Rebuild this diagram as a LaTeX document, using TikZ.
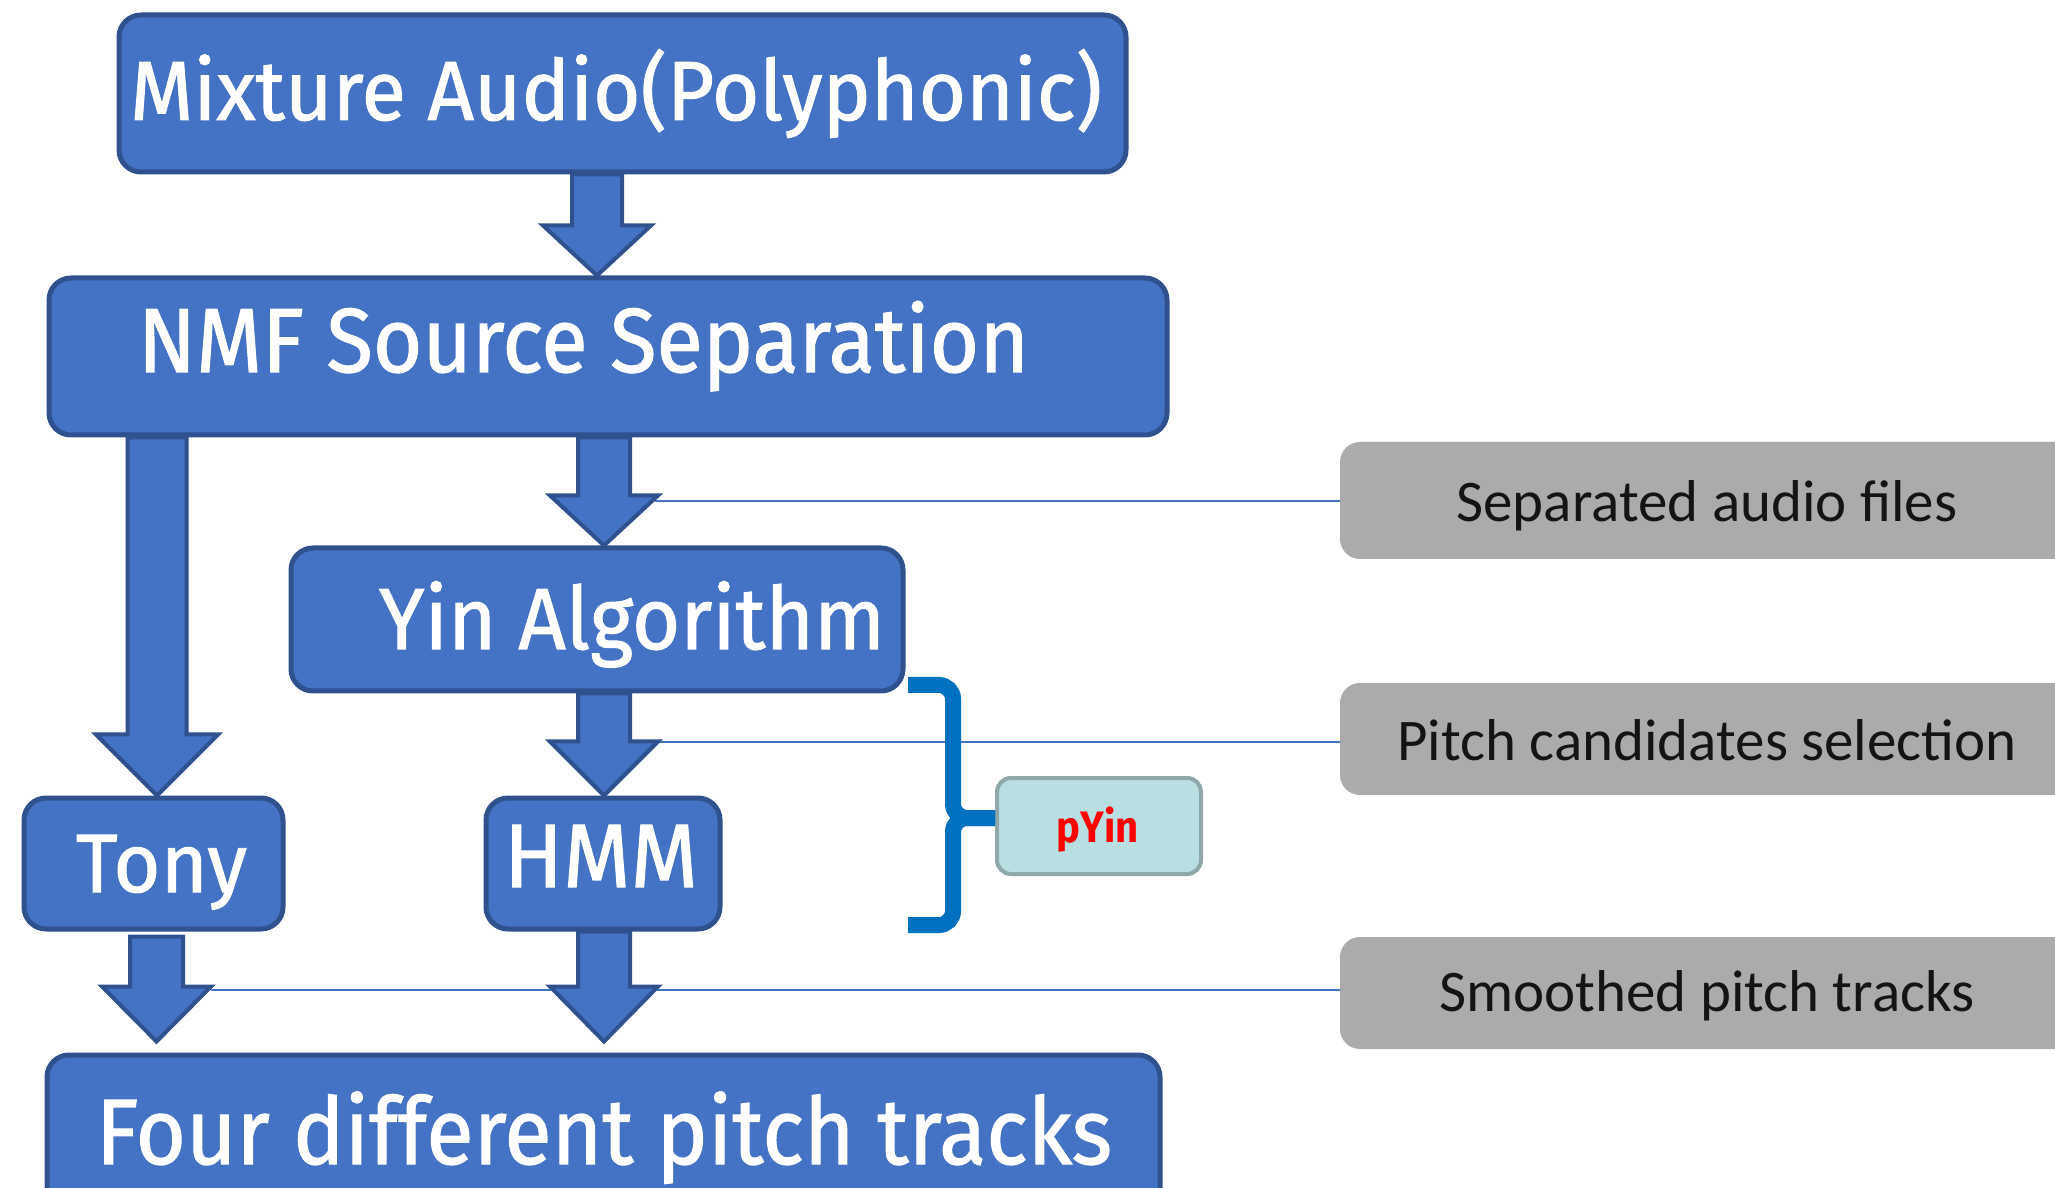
\documentclass[tikz,border=0pt]{standalone}
\usepackage{fontspec}
\setmainfont{Fira Sans}
\newfontfamily\thickfont{Fira Sans}[FakeBold=1.2]
\newfontfamily\calib{Carlito}
\usetikzlibrary{calc}
\definecolor{boxblue}{HTML}{4472C4}
\definecolor{boxedge}{HTML}{2F528F}
\definecolor{grayfill}{HTML}{ABABAB}
\definecolor{bracecol}{HTML}{0070C0}
\definecolor{pyinfill}{HTML}{BADFE3}
\definecolor{pyinedge}{HTML}{8EA7A8}
\definecolor{pyinred}{HTML}{FF0000}
\newcommand\fitw[2]{\resizebox{#1pt}{\height}{#2}}
% block arrow: start, tip, shaft half width, head half width, head length
\newcommand\barr[5]{%
  \draw[blockarrow] let \p1=(#1), \p2=(#2) in
   (\x1-#3pt,\y1) -- (\x1-#3pt,\y2+#5pt) -- (\x1-#4pt,\y2+#5pt) -- (\x1,\y2)
   -- (\x1+#4pt,\y2+#5pt) -- (\x1+#3pt,\y2+#5pt) -- (\x1+#3pt,\y1) -- cycle;}
\tikzset{
  bluebox/.style={draw=boxedge, line width=5pt, fill=boxblue, rounded corners=22pt, inner sep=0pt},
  bluetext/.style={text=white, anchor=base, inner sep=0pt},
  blockarrow/.style={draw=boxedge, line width=4pt, fill=boxblue, line join=miter},
  graybox/.style={fill=grayfill, rounded corners=20pt, inner sep=0pt, minimum width=760pt},
  graytext/.style={font=\calib\fontsize{59}{70}\selectfont, text=black!92, anchor=base, inner sep=0pt},
  guide/.style={draw=boxblue, line width=2.5pt},
  bracestyle/.style={draw=bracecol, line width=16pt, rounded corners=14pt},
  pyinbox/.style={draw=pyinedge, line width=4pt, fill=pyinfill, rounded corners=14pt, inner sep=0pt},
}
\begin{document}
\begin{tikzpicture}[x=1pt,y=1pt]
\useasboundingbox (0,0) rectangle (2055,1187);
\clip (0,0) rectangle (2055,1187);
\fill[white] (0,0) rectangle (2055,1187);

% main blue boxes
\node[bluebox, minimum width=1007pt, minimum height=157pt] (mix) at (622.5,1093.5) {};
\node[bluetext, font=\thickfont\fontsize{84}{90}\selectfont] (mixT) at (616,1067) {\fitw{972}{Mixture Audio(Polyphonic)}};

\node[bluebox, minimum width=1118pt, minimum height=157pt] (nmf) at (608,830.5) {};
\node[bluetext, font=\thickfont\fontsize{91}{96}\selectfont] (nmfT) at (583.5,815) {\fitw{891}{NMF Source Separation}};

\node[bluebox, minimum width=612pt, minimum height=143pt] (yin) at (597,567.5) {};
\node[bluetext, font=\thickfont\fontsize{87}{92}\selectfont] (yinT) at (632,538) {\fitw{506}{Yin Algorithm}};

\node[bluebox, minimum width=259pt, minimum height=131pt] (tony) at (153.5,323.5) {};
\node[bluetext, font=\thickfont\fontsize{83}{90}\selectfont] (tonyT) at (161.5,295) {\fitw{171}{Tony}};

\node[bluebox, minimum width=234pt, minimum height=131pt] (hmm) at (603,323.5) {};
\node[bluetext, font=\thickfont\fontsize{90}{96}\selectfont] (hmmT) at (601,300) {\fitw{194}{HMM}};

\node[bluebox, minimum width=1113pt, minimum height=175pt] (four) at (603.5,44.5) {};
\node[bluetext, font=\thickfont\fontsize{93}{98}\selectfont] (fourT) at (604,23) {\fitw{1016}{Four different pitch tracks}};

% gray annotation boxes
\node[graybox, minimum height=117pt] (sep) at (1720,686.5) {};
\node[graytext] (sepT) at (1707,665) {Separated audio files};
\node[graybox, minimum height=112pt] (pitch) at (1720,448) {};
\node[graytext] (pitchT) at (1707,427) {Pitch candidates selection};
\node[graybox, minimum height=112pt] (smooth) at (1720,194) {};
\node[graytext] (smoothT) at (1707,176) {Smoothed pitch tracks};

% pYin box
\node[pyinbox, minimum width=204pt, minimum height=96pt] (pyin) at (1099,361) {};
\node[anchor=base, inner sep=0pt, text=pyinred, font=\bfseries\fontsize{44}{50}\selectfont] (pyinT) at (1097.5,345) {\fitw{82}{pYin}};

% guide lines
\coordinate (l1) at (655,686);
\coordinate (l2) at (655,445);
\coordinate (l3) at (211,197);
\draw[guide] (l1) -- (l1 -| sep.west);
\draw[guide] (l2) -- (l2 -| pitch.west);
\draw[guide] (l3) -- (l3 -| smooth.west);

% block arrows
\coordinate (a1) at ([xshift=-25.5pt]mix.south);
\barr{a1}{a1 |- nmf.north}{25}{54}{50}
\coordinate (a2) at ([xshift=-451pt]nmf.south);
\barr{a2}{a2 |- tony.north}{29.5}{61}{61}
\coordinate (a3) at ([xshift=-4pt]nmf.south);
\barr{a3}{a3 |- yin.north}{26}{54}{50}
\coordinate (a4) at ([xshift=7pt]yin.south);
\barr{a4}{a4 |- hmm.north}{26}{54}{54}
\coordinate (a5) at ([xshift=3pt,yshift=-5pt]tony.south);
\barr{a5}{$(a5 |- four.north)+(0,11)$}{26.5}{54.5}{55}
\coordinate (a6) at ([xshift=1pt]hmm.south);
\barr{a6}{$(a6 |- four.north)+(0,11)$}{26}{54}{55}

% bracket
\coordinate (brtop) at (908,502);
\coordinate (brbot) at (908,262);
\coordinate (brtip) at (953,369);
\draw[bracestyle] (brtop) -- (brtop -| brtip) -- (brtip) -- (brtip -| pyin.west);
\draw[bracestyle] (brbot) -- (brbot -| brtip) -- (brtip) -- (brtip -| pyin.west);
\end{tikzpicture}
\end{document}
